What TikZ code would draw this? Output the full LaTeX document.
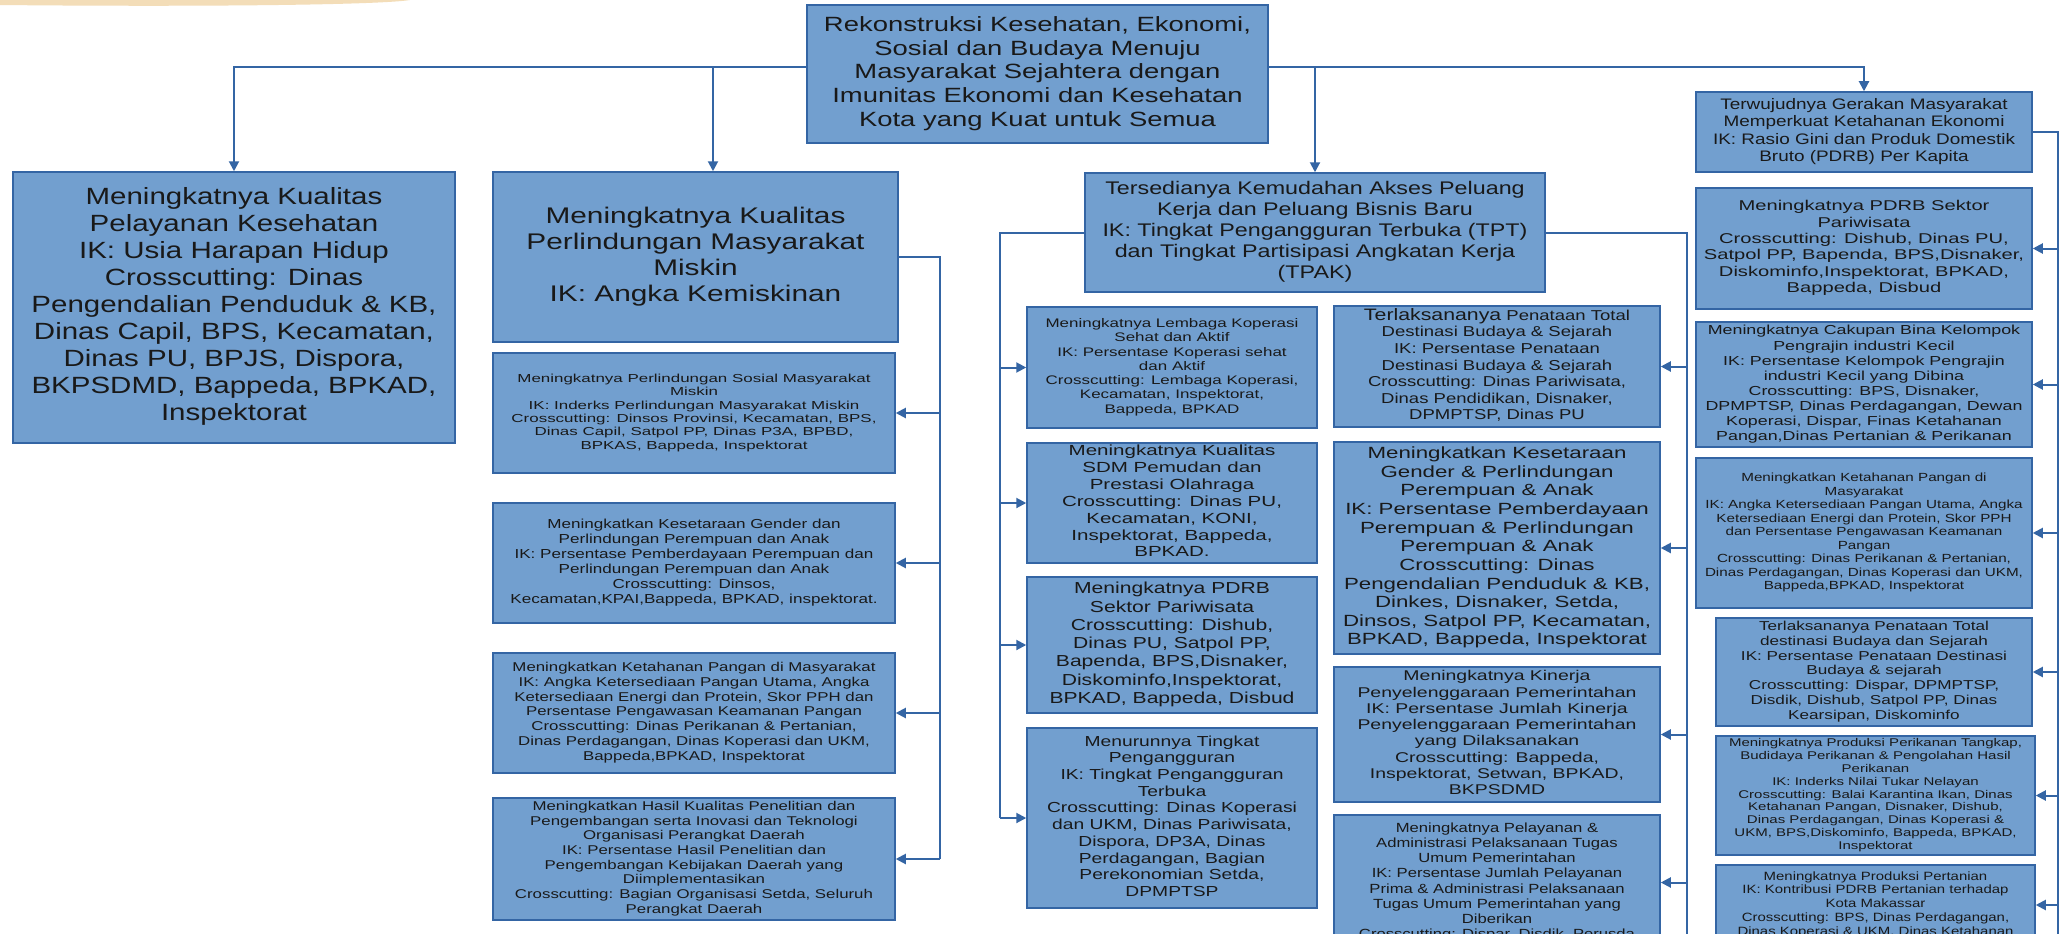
\documentclass[tikz,border=0pt]{standalone}
\usepackage{fontspec}
\setmainfont{Liberation Sans}
\usepackage{graphicx}
\usetikzlibrary{arrows.meta}
\definecolor{boxfill}{HTML}{729FCF}
\definecolor{boxline}{HTML}{3465A4}
\definecolor{conn}{HTML}{3465A4}
\definecolor{smear}{HTML}{F3DDB8}
\newcommand\bt[3]{\resizebox*{#1pt}{#2pt}{\begin{tabular}{@{}c@{}}#3\end{tabular}}}
\tikzset{
 bx/.style={draw=boxline, fill=boxfill, line width=1.5pt, inner sep=0pt, font=\fontsize{10}{11.5}\selectfont, text=black!90},
 ln/.style={draw=conn, line width=2pt},
 arr/.style={ln, -{Triangle[length=10pt,width=10pt]}},
}
\begin{document}
\begin{tikzpicture}[x=1pt,y=1pt]
\clip (0,0) rectangle (2062,-934);
\fill[white] (0,0) rectangle (2062,-934);
\fill[smear] (0,0) -- (410,0) .. controls (380,-5) and (200,-7) .. (0,-5) -- cycle;

% top
\node[bx, minimum width=461pt, minimum height=138pt] (T) at (1037.5,-74) {\bt{427}{118.5}{Rekonstruksi Kesehatan, Ekonomi,\\Sosial dan Budaya Menuju\\Masyarakat Sejahtera dengan\\Imunitas Ekonomi dan Kesehatan\\Kota yang Kuat untuk Semua}};

% column 1
\node[bx, minimum width=442pt, minimum height=271pt] (L1) at (234,-307.5) {\bt{405}{243}{Meningkatnya Kualitas\\Pelayanan Kesehatan\\IK: Usia Harapan Hidup\\Crosscutting: Dinas\\Pengendalian Penduduk \& KB,\\Dinas Capil, BPS, Kecamatan,\\Dinas PU, BPJS, Dispora,\\BKPSDMD, Bappeda, BPKAD,\\Inspektorat}};

% column 2
\node[bx, minimum width=405pt, minimum height=170pt] (L2) at (695.5,-257) {\bt{338}{104}{Meningkatnya Kualitas\\Perlindungan Masyarakat\\Miskin\\IK: Angka Kemiskinan}};
\node[bx, minimum width=402pt, minimum height=120pt] (A) at (694,-413) {\bt{365}{80}{Meningkatnya Perlindungan Sosial Masyarakat\\Miskin\\IK: Inderks Perlindungan Masyarakat Miskin\\Crosscutting: Dinsos Provinsi, Kecamatan, BPS,\\Dinas Capil, Satpol PP, Dinas P3A, BPBD,\\BPKAS, Bappeda, Inspektorat}};
\node[bx, minimum width=402pt, minimum height=120pt] (B) at (694,-563) {\bt{367}{90}{Meningkatkan Kesetaraan Gender dan\\Perlindungan Perempuan dan Anak\\IK: Persentase Pemberdayaan Perempuan dan\\Perlindungan Perempuan dan Anak\\Crosscutting: Dinsos,\\Kecamatan,KPAI,Bappeda, BPKAD, inspektorat.}};
\node[bx, minimum width=402pt, minimum height=120pt] (C) at (694,-713) {\bt{363}{103}{Meningkatkan Ketahanan Pangan di Masyarakat\\IK: Angka Ketersediaan Pangan Utama, Angka\\Ketersediaan Energi dan Protein, Skor PPH dan\\Persentase Pengawasan Keamanan Pangan\\Crosscutting: Dinas Perikanan \& Pertanian,\\Dinas Perdagangan, Dinas Koperasi dan UKM,\\Bappeda,BPKAD, Inspektorat}};
\node[bx, minimum width=402pt, minimum height=122pt] (D) at (694,-859) {\bt{358}{117}{Meningkatkan Hasil Kualitas Penelitian dan\\Pengembangan serta Inovasi dan Teknologi\\Organisasi Perangkat Daerah\\IK: Persentase Hasil Penelitian dan\\Pengembangan Kebijakan Daerah yang\\Diimplementasikan\\Crosscutting: Bagian Organisasi Setda, Seluruh\\Perangkat Daerah}};

% column 3 head
\node[bx, minimum width=460pt, minimum height=119pt] (M) at (1315,-232.5) {\bt{425}{105}{Tersedianya Kemudahan Akses Peluang\\Kerja dan Peluang Bisnis Baru\\IK: Tingkat Pengangguran Terbuka (TPT)\\dan Tingkat Partisipasi Angkatan Kerja\\(TPAK)}};

% column 3
\node[bx, minimum width=290pt, minimum height=121pt] (S1) at (1172,-367.5) {\bt{253}{100}{Meningkatnya Lembaga Koperasi\\Sehat dan Aktif\\IK: Persentase Koperasi sehat\\dan Aktif\\Crosscutting: Lembaga Koperasi,\\Kecamatan, Inspektorat,\\Bappeda, BPKAD}};
\node[bx, minimum width=290pt, minimum height=120pt] (S2) at (1172,-503) {\bt{220}{118}{Meningkatnya Kualitas\\SDM Pemudan dan\\Prestasi Olahraga\\Crosscutting: Dinas PU,\\Kecamatan, KONI,\\Inspektorat, Bappeda,\\BPKAD.}};
\node[bx, minimum width=290pt, minimum height=136pt] (S3) at (1172,-645) {\bt{245}{128}{Meningkatnya PDRB\\Sektor Pariwisata\\Crosscutting: Dishub,\\Dinas PU, Satpol PP,\\Bapenda, BPS,Disnaker,\\Diskominfo,Inspektorat,\\BPKAD, Bappeda, Disbud}};
\node[bx, minimum width=290pt, minimum height=180pt] (S4) at (1172,-818) {\bt{250}{167}{Menurunnya Tingkat\\Pengangguran\\IK: Tingkat Pengangguran\\Terbuka\\Crosscutting: Dinas Koperasi\\dan UKM, Dinas Pariwisata,\\Dispora, DP3A, Dinas\\Perdagangan, Bagian\\Perekonomian Setda,\\DPMPTSP}};

% column 4
\node[bx, minimum width=326pt, minimum height=121pt] (E) at (1497,-366.5) {\bt{266}{116}{{\fontsize{11.5}{11.5}\selectfont Terlaksananya} Penataan Total\\Destinasi Budaya \& Sejarah\\IK: Persentase Penataan\\Destinasi Budaya \& Sejarah\\Crosscutting: Dinas Pariwisata,\\Dinas Pendidikan, Disnaker,\\DPMPTSP, Dinas PU}};
\node[bx, minimum width=326pt, minimum height=212pt] (F) at (1497,-548) {\bt{308}{205}{Meningkatkan Kesetaraan\\Gender \& Perlindungan\\Perempuan \& Anak\\IK: Persentase Pemberdayaan\\Perempuan \& Perlindungan\\Perempuan \& Anak\\Crosscutting: Dinas\\Pengendalian Penduduk \& KB,\\Dinkes, Disnaker, Setda,\\Dinsos, Satpol PP, Kecamatan,\\BPKAD, Bappeda, Inspektorat}};
\node[bx, minimum width=326pt, minimum height=135pt] (G) at (1497,-734.5) {\bt{279}{130}{Meningkatnya Kinerja\\Penyelenggaraan Pemerintahan\\IK: Persentase Jumlah Kinerja\\Penyelenggaraan Pemerintahan\\yang Dilaksanakan\\Crosscutting: Bappeda,\\Inspektorat, Setwan, BPKAD,\\BKPSDMD}};
\node[bx, minimum width=326pt, minimum height=135pt] (H) at (1497,-882.5) {\bt{276}{122}{Meningkatnya Pelayanan \&\\Administrasi Pelaksanaan Tugas\\Umum Pemerintahan\\IK: Persentase Jumlah Pelayanan\\Prima \& Administrasi Pelaksanaan\\Tugas Umum Pemerintahan yang\\Diberikan\\Crosscutting: Dispar, Disdik, Perusda}};

% column 5
\node[bx, minimum width=336pt, minimum height=80pt] (R1) at (1864,-132) {\bt{302}{70}{Terwujudnya Gerakan Masyarakat\\Memperkuat Ketahanan Ekonomi\\IK: Rasio Gini dan Produk Domestik\\Bruto (PDRB) Per Kapita}};
\node[bx, minimum width=336pt, minimum height=121pt] (R2) at (1864,-248.5) {\bt{320}{98}{Meningkatnya PDRB Sektor\\Pariwisata\\Crosscutting: Dishub, Dinas PU,\\Satpol PP, Bapenda, BPS,Disnaker,\\Diskominfo,Inspektorat, BPKAD,\\Bappeda, Disbud}};
\node[bx, minimum width=336pt, minimum height=125pt] (R3) at (1864,-384.5) {\bt{317}{120}{Meningkatnya Cakupan Bina Kelompok\\Pengrajin industri Kecil\\IK: Persentase Kelompok Pengrajin\\industri Kecil yang Dibina\\Crosscutting: BPS, Disnaker,\\DPMPTSP, Dinas Perdagangan, Dewan\\Koperasi, Dispar, Finas Ketahanan\\Pangan,Dinas Pertanian \& Perikanan}};
\node[bx, minimum width=336pt, minimum height=150pt] (R4) at (1864,-533) {\bt{318}{122}{Meningkatkan Ketahanan Pangan di\\Masyarakat\\IK: Angka Ketersediaan Pangan Utama, Angka\\Ketersediaan Energi dan Protein, Skor PPH\\dan Persentase Pengawasan Keamanan\\Pangan\\Crosscutting: Dinas Perikanan \& Pertanian,\\Dinas Perdagangan, Dinas Koperasi dan UKM,\\Bappeda,BPKAD, Inspektorat}};
\node[bx, minimum width=316pt, minimum height=108pt] (R5) at (1874,-672) {\bt{266}{104}{Terlaksananya Penataan Total\\destinasi Budaya dan Sejarah\\IK: Persentase Penataan Destinasi\\Budaya \& sejarah\\Crosscutting: Dispar, DPMPTSP,\\Disdik, Dishub, Satpol PP, Dinas\\Kearsipan, Diskominfo}};
\node[bx, minimum width=319pt, minimum height=119pt] (R6) at (1875.5,-795.5) {\bt{293}{116}{Meningkatnya Produksi Perikanan Tangkap,\\Budidaya Perikanan \& Pengolahan Hasil\\Perikanan\\IK: Inderks Nilai Tukar Nelayan\\Crosscutting: Balai Karantina Ikan, Dinas\\Ketahanan Pangan, Disnaker, Dishub,\\Dinas Perdagangan, Dinas Koperasi \&\\UKM, BPS,Diskominfo, Bappeda, BPKAD,\\Inspektorat}};
\node[bx, minimum width=319pt, minimum height=80pt] (R7) at (1875.5,-905) {\bt{276}{69}{Meningkatnya Produksi Pertanian\\IK: Kontribusi PDRB Pertanian terhadap\\Kota Makassar\\Crosscutting: BPS, Dinas Perdagangan,\\Dinas Koperasi \& UKM, Dinas Ketahanan}};

% connectors from top
\draw[arr] ([yshift=7pt]T.west) -| (L1.north);
\draw[arr] ([yshift=7pt]T.west) -| ([xshift=17.5pt]L2.north);
\draw[arr] ([yshift=7pt]T.east) -| (M.north);
\draw[arr] ([yshift=7pt]T.east) -| (R1.north);

% column 2 bus
\coordinate (v2top) at (940,-257);
\coordinate (v2bot) at (940,-859);
\draw[ln] (L2.east) -- (v2top) -- (v2bot);
\foreach \n in {A,B,C,D} \draw[arr] (v2top |- \n.east) -- (\n.east);

% column 3 bus
\coordinate (v3top) at (1000,-232.5);
\coordinate (v3bot) at (1000,-818);
\draw[ln] (M.west) -- (v3top) -- (v3bot);
\foreach \n in {S1,S2,S3,S4} \draw[arr] (v3top |- \n.west) -- (\n.west);

% column 4 bus
\coordinate (v4top) at (1687,-232.5);
\coordinate (v4bot) at (1687,-940);
\draw[ln] (M.east) -- (v4top) -- (v4bot);
\foreach \n in {E,F,G,H} \draw[arr] (v4top |- \n.east) -- (\n.east);

% column 5 bus
\coordinate (v5top) at (2058,-132);
\coordinate (v5bot) at (2058,-940);
\draw[ln] (R1.east) -- (v5top) -- (v5bot);
\foreach \n in {R2,R3,R4,R5,R6,R7} \draw[arr] (v5top |- \n.east) -- (\n.east);
\end{tikzpicture}
\end{document}
